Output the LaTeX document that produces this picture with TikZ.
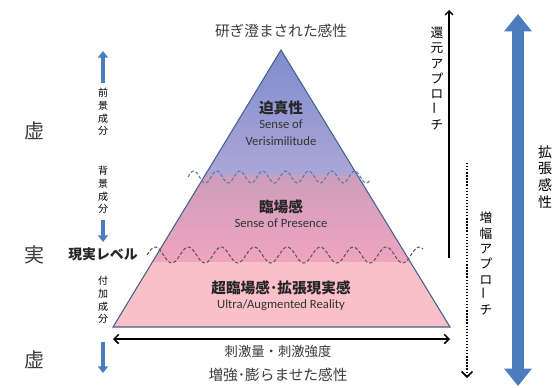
\documentclass[tikz,border=0pt]{standalone}
\usepackage{fontspec}
\setmainfont{Carlito}
\newfontfamily\jp{Noto Sans CJK JP}
\usepackage{tikz}
\usetikzlibrary{arrows.meta, positioning}

\definecolor{topblue}{RGB}{124,140,206}
\definecolor{lavender}{RGB}{172,166,214}
\definecolor{mauve}{RGB}{204,158,188}
\definecolor{rosy}{RGB}{240,164,190}
\definecolor{palepink}{RGB}{250,192,200}
\definecolor{edgeblue}{RGB}{70,96,140}
\definecolor{arrowblue}{RGB}{74,124,190}
\definecolor{waveblue}{RGB}{90,120,175}
\definecolor{textgray}{RGB}{60,60,60}

\newcommand{\tatebar}{\rotatebox{90}{ー}}

\begin{document}
\begin{tikzpicture}[
        x=0.75pt, y=-0.75pt,
        every node/.style={inner sep=1pt, anchor=center},
        layer/.style={font=\jp\bfseries\fontsize{11}{13}\selectfont, text=black!85},
        eng/.style={font=\fontsize{9.5}{13}\selectfont, align=center, text=black!80},
        side/.style={font=\jp\fontsize{11}{13}\selectfont, text=textgray},
        kyo/.style={font=\jp\fontsize{15}{17}\selectfont, text=textgray},
        tate/.style={font=\jp\fontsize{7.5}{9.5}\selectfont, align=center, inner sep=0pt},
        tatebig/.style={font=\jp\fontsize{9.5}{11.5}\selectfont, align=center, inner sep=0pt},
        bluearrow/.style={draw=arrowblue, line width=3pt, -{Triangle[width=7.5pt, length=5pt]}},
        thinarrow/.style={draw=black, line width=1pt, -{Straight Barb[width=6pt, length=3pt]}},
        wave/.style={dash pattern=on 2.5pt off 1.5pt, line width=0.8pt}
    ]
    \useasboundingbox (0,0) rectangle (555,387);

    % Pyramid
    \coordinate (apex) at (281,50);
    \coordinate (bl) at (113,327);
    \coordinate (br) at (450,327);
    \begin{scope}
        \clip (apex) -- (bl) -- (br) -- cycle;
        \shade[top color=topblue, bottom color=lavender] (100,45) rectangle (460,175);
        \shade[top color=mauve, bottom color=rosy] (100,175) rectangle (460,262);
        \fill[palepink] (100,262) rectangle (460,330);
    \end{scope}
    \draw[edgeblue, line width=0.8pt] (apex) -- (bl) -- (br) -- cycle;

    % Waves
    \draw[wave, waveblue] plot[domain=188:370, samples=150] (\x, {177 - 6*sin((\x-188)/23*360)});
    \draw[wave, black!65] plot[domain=147:423, samples=200] (\x, {255 - 8*sin((\x-147)/33*360)});

    % Layers
    \node[layer] (verisim) at (281,108) {迫真性};
    \node[eng, below=1pt of verisim] (verisimEn) {Sense of\\Verisimilitude};
    \node[layer] (presence) at (281,207) {臨場感};
    \node[eng, below=1pt of presence] (presenceEn) {Sense of Presence};
    \node[layer] (ultra) at (281,288) {超臨場感･拡張現実感};
    \node[eng, below=1pt of ultra] (ultraEn) {Ultra/Augmented Reality};

    % Labels
    \node[side] (sharp) at (281,31) {研ぎ澄まされた感性};
    \node[side] (swell) at (278,375) {増強･膨らませた感性};
    \node[side, font=\jp\fontsize{10}{12}\selectfont] (stim) at (278,351) {刺激量・刺激強度};
    \draw[line width=1.1pt, {Straight Barb[width=7pt, length=3.5pt]}-{Straight Barb[width=7pt, length=3.5pt]}] (bl |- 0,339) coordinate (stimL) -- (br |- 0,339) coordinate (stimR);

    % Left side
    \node[kyo] (kyoTop) at (34,131) {虚};
    \node[kyo] (jitsu) at (34,255) {実};
    \node[kyo] (kyoBot) at (34,360) {虚};
    \node[font=\jp\bfseries\fontsize{10.4}{12}\selectfont, text=black!85] (real) at (103,254) {現実レベル};
    \node[tate] (fore) at (103,112) {前\\景\\成\\分};
    \node[tate] (back) at (103,190) {背\\景\\成\\分};
    \node[tate] (add) at (103,300) {付\\加\\成\\分};
    \draw[bluearrow] (103,83) coordinate (foreA) -- (103,51) coordinate (foreB);
    \draw[bluearrow] (back.south) ++(0,6) coordinate (backA) -- (103,242) coordinate (backB);
    \draw[bluearrow] (103,342) coordinate (addA) -- (103,373) coordinate (addB);

    % Right side
    \coordinate (reduceA) at (449,258);
    \coordinate (reduceB) at (449,10);
    \draw[thinarrow] (reduceA) -- (reduceB);
    \node[tatebig, anchor=north] (reduce) at (437,27) {還\\元\\ア\\プ\\ロ\\\tatebar\\チ};
    \coordinate (ampA) at (467,163);
    \coordinate (ampB) at (467,378);
    \draw[line width=1.2pt, dash pattern=on 1pt off 1.3pt, -{Straight Barb[width=8pt, length=4pt]}] (ampA) -- (ampB);
    \node[tatebig, anchor=north] (amp) at (486,212) {増\\幅\\ア\\プ\\ロ\\\tatebar\\チ};
    \coordinate (expA) at (518,386);
    \coordinate (expB) at (518,14);
    \draw[arrowblue, line width=9pt, {Triangle[width=20pt, length=13pt]}-{Triangle[width=20pt, length=13pt]}] (expA) -- (expB);
    \node[font=\jp\fontsize{10.5}{12.5}\selectfont, align=center, inner sep=0pt] (expand) at (545,177) {拡\\張\\感\\性};

\end{tikzpicture}
\end{document}
